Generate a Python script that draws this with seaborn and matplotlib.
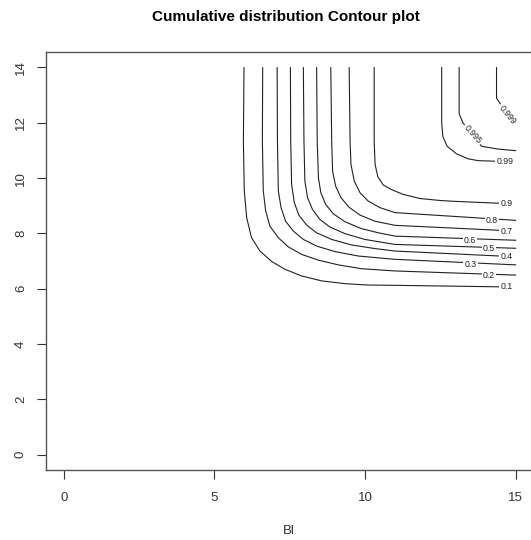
import numpy as np
import pandas as pd
import matplotlib
matplotlib.use("Agg")
import matplotlib.pyplot as plt
import seaborn as sns

# ---- data (contour lines of the cumulative distribution) ----
levels = ["0.1", "0.2", "0.3", "0.4", "0.5", "0.6", "0.7", "0.8", "0.9", "0.99", "0.995", "0.999"]

x_01 = [5.98, 5.96, 5.99, 6.07, 6.23, 6.51, 6.90, 7.34, 7.89, 8.56, 9.33, 10.10, 10.99, 14.85]
y_01 = [14.0, 11.33, 9.53, 8.56, 7.84, 7.36, 6.98, 6.70, 6.46, 6.28, 6.18, 6.13, 6.12, 6.06]

x_02 = [6.60, 6.59, 6.62, 6.70, 6.84, 7.12, 7.45, 7.89, 8.45, 9.11, 9.88, 10.99, 15.0]
y_02 = [14.0, 11.33, 9.53, 8.81, 8.26, 7.84, 7.51, 7.24, 7.03, 6.86, 6.72, 6.64, 6.49]

x_03 = [7.08, 7.09, 7.12, 7.21, 7.36, 7.62, 7.95, 8.39, 9.00, 9.77, 10.99, 15.0]
y_03 = [14.0, 11.33, 9.53, 8.93, 8.44, 8.08, 7.78, 7.54, 7.34, 7.18, 7.06, 6.86]

x_04 = [7.52, 7.53, 7.56, 7.65, 7.80, 8.06, 8.39, 8.89, 9.55, 10.32, 10.99, 14.85]
y_04 = [14.0, 11.33, 9.77, 9.11, 8.66, 8.30, 8.02, 7.78, 7.58, 7.45, 7.36, 7.16]

x_05 = [7.95, 7.97, 8.00, 8.09, 8.25, 8.50, 8.83, 9.33, 9.99, 10.99, 15.0]
y_05 = [14.0, 11.33, 9.89, 9.29, 8.87, 8.50, 8.23, 7.99, 7.78, 7.60, 7.46]

x_06 = [8.39, 8.41, 8.45, 8.53, 8.69, 8.94, 9.33, 9.88, 10.44, 10.99, 15.0]
y_06 = [14.0, 11.33, 10.01, 9.47, 9.05, 8.71, 8.42, 8.17, 8.02, 7.90, 7.75]

x_07 = [8.86, 8.89, 8.92, 9.02, 9.20, 9.46, 9.83, 10.32, 10.99, 14.85]
y_07 = [14.0, 11.33, 10.25, 9.71, 9.29, 8.95, 8.66, 8.44, 8.29, 8.09]

x_08 = [9.47, 9.50, 9.53, 9.64, 9.83, 10.10, 10.49, 10.99, 15.0]
y_08 = [14.0, 11.33, 10.49, 9.89, 9.47, 9.17, 8.93, 8.75, 8.47]

x_09 = [10.30, 10.30, 10.33, 10.42, 10.60, 10.88, 11.26, 11.82, 12.48, 12.92, 14.85]
y_09 = [14.0, 11.33, 10.50, 10.05, 9.75, 9.58, 9.41, 9.26, 9.19, 9.16, 9.07]

x_099 = [12.54, 12.54, 12.58, 12.72, 13.03, 13.40, 13.75, 14.31, 14.85]
y_099 = [14.0, 12.00, 11.50, 11.15, 10.88, 10.70, 10.63, 10.61, 10.59]

x_0995 = [13.12, 13.12, 13.25, 13.55, 13.86, 14.40, 15.0]
y_0995 = [14.0, 12.32, 11.99, 11.57, 11.15, 11.05, 10.99]

x_0999 = [14.36, 14.36, 14.47, 14.72, 14.90]
y_0999 = [14.0, 12.89, 12.71, 12.30, 12.02]

# label anchor points (data coords) and rotation of each contour label
label_x = [14.69, 14.11, 13.49, 14.70, 14.11, 13.48, 14.69, 14.21, 14.69, 14.64, 13.56, 14.72]
label_y = [6.06, 6.49, 6.86, 7.16, 7.46, 7.75, 8.08, 8.47, 9.07, 10.59, 11.57, 12.30]
label_rot = [0, 0, 0, 0, 0, 0, 0, 0, 0, 0, -48, -51]

x_ticks = [0, 5, 10, 15]
y_ticks = [0, 2, 4, 6, 8, 10, 12, 14]

xs = [x_01, x_02, x_03, x_04, x_05, x_06, x_07, x_08, x_09, x_099, x_0995, x_0999]
ys = [y_01, y_02, y_03, y_04, y_05, y_06, y_07, y_08, y_09, y_099, y_0995, y_0999]
rows = []
for lev, xv, yv in zip(levels, xs, ys):
    for i, (a, b) in enumerate(zip(xv, yv)):
        rows.append({"level": lev, "order": i, "x": a, "y": b})
df = pd.DataFrame(rows)

# ---- style ----
sns.set_theme(style="ticks")
plt.rcParams["font.family"] = ["Liberation Sans", "DejaVu Sans"]

W, H = 531, 540
fig = plt.figure(figsize=(W / 100, H / 100), dpi=100)
ax = fig.add_axes([45.7 / W, 1 - 470 / H, (533.9 - 45.7) / W, (470 - 52) / H])

sns.lineplot(data=df, x="x", y="y", units="level", estimator=None, sort=False,
             color="#222222", linewidth=0.8, ax=ax, legend=False)

for lx, ly, lr, lev in zip(label_x, label_y, label_rot, levels):
    ax.text(lx, ly, lev, fontsize=6.3, rotation=lr,
            ha="center", va="center", color="#222222",
            bbox=dict(boxstyle="square,pad=0.15", fc="white", ec="none"))

ax.set_xlim(-0.6, 15.6)
ax.set_ylim(-0.56, 14.56)
ax.set_xticks(x_ticks)
ax.set_yticks(y_ticks)
ax.set_xticklabels([str(t) for t in x_ticks])
ax.set_yticklabels([str(t) for t in y_ticks], rotation=90, va="center")
ax.set_xlabel("")
ax.set_ylabel("")
ax.tick_params(axis="both", direction="out", length=6.5, width=0.8, color="#333333",
               labelsize=9.5, labelcolor="#333333")
ax.tick_params(axis="x", pad=9)
ax.tick_params(axis="y", pad=7)
for s in ax.spines.values():
    s.set_color("#555555")
    s.set_linewidth(1.0)
ax.set_facecolor("white")

fig.text(285.5 / W, 1 - 16.7 / H, "Cumulative distribution Contour plot",
         ha="center", va="center", fontsize=11, fontweight="bold", color="black")
fig.text(289.3 / W, 1 - 531.5 / H, "Bl", ha="center", va="center", fontsize=9.5, color="#333333")

fig.savefig("out.png", dpi=100, facecolor="white")
